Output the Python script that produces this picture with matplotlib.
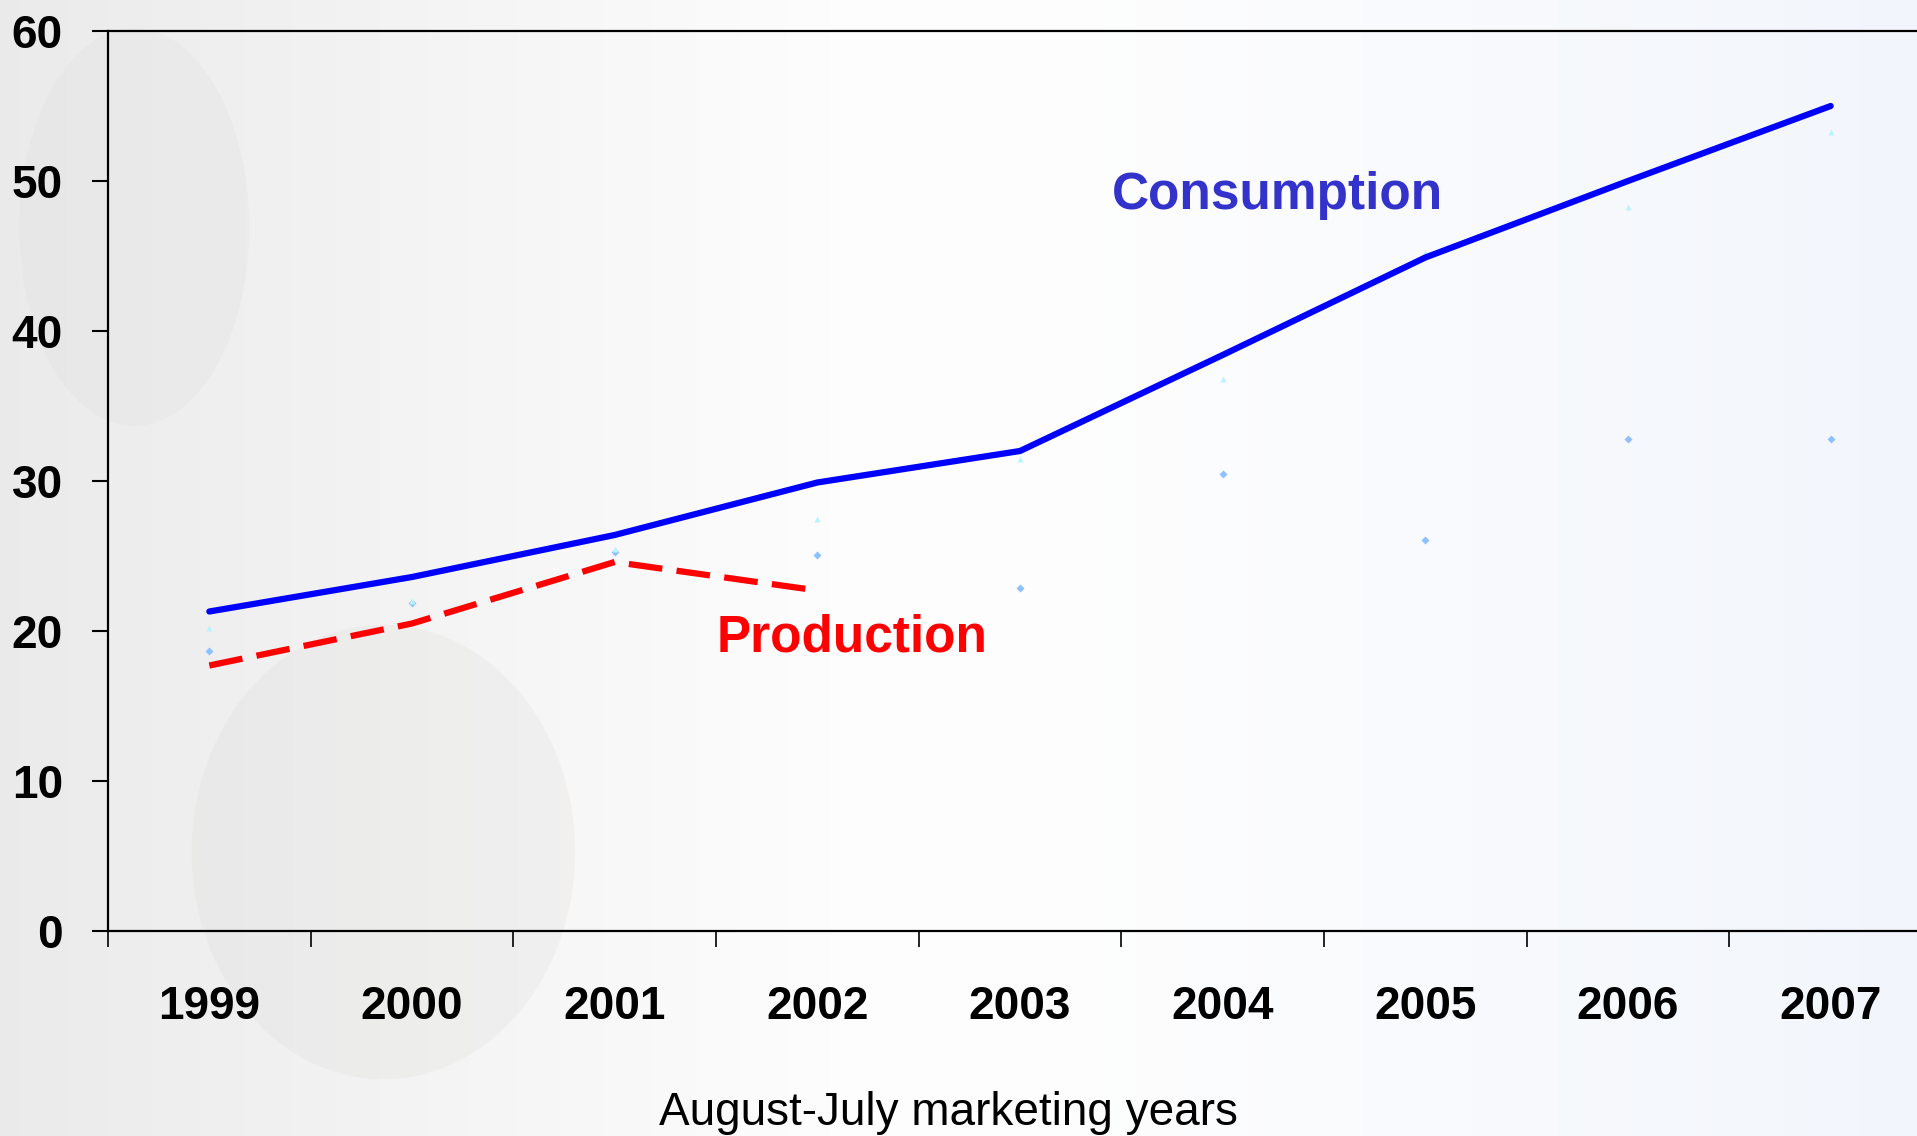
import numpy as np
import matplotlib.pyplot as plt
from matplotlib.ticker import FixedLocator
from matplotlib.patches import Ellipse

years = ['1999', '2000', '2001', '2002', '2003', '2004', '2005', '2006', '2007']
consumption = [21.3, 23.6, 26.4, 29.9, 32.0, 38.4, 44.9, 50.0, 55.0]
production = [17.7, 20.5, 24.6, 22.7]
faint_diamond = [18.7, 21.9, 25.3, 25.1, 22.9, 30.5, 26.1, 32.8, 32.8]
faint_triangle = [20.2, 22.0, 25.5, 27.5, 31.5, 36.8, 45.2, 48.3, 53.3]
yticks = [0, 10, 20, 30, 40, 50, 60]

plt.rcParams['font.family'] = ['Liberation Sans', 'DejaVu Sans']

fig = plt.figure(figsize=(19.17, 11.36), dpi=100)

# faded background: grey on the left, white in the middle, pale blue at right
bg = fig.add_axes([0, 0, 1, 1], zorder=-10)
gx = np.linspace(0, 1, 400)
gy = np.linspace(0, 1, 240)
X, Y = np.meshgrid(gx, gy)
left = np.clip(1 - X / 0.45, 0, 1)
right = np.clip((X - 0.55) / 0.45, 0, 1)
img = np.zeros((240, 400, 3))
img[..., 0] = 0.995 - 0.075 * left - 0.045 * right
img[..., 1] = 0.995 - 0.075 * left - 0.030 * right
img[..., 2] = 0.995 - 0.075 * left - 0.005 * right
bg.imshow(img, extent=[0, 1, 0, 1], aspect='auto', origin='lower')
bg.add_patch(Ellipse((0.2, 0.25), 0.2, 0.4, color='#d6d3d0', alpha=0.18, lw=0))
bg.add_patch(Ellipse((0.07, 0.8), 0.12, 0.35, color='#d8d8d8', alpha=0.18, lw=0))
bg.set_xlim(0, 1)
bg.set_ylim(0, 1)
bg.axis('off')

ax = fig.add_axes([108 / 1917, 1 - 931 / 1136, (1932 - 108) / 1917, 900 / 1136])
ax.patch.set_alpha(0)
x = np.arange(len(years))

ax.plot(x, faint_diamond, linestyle='none', marker='D', ms=4, color='#8fc0ff', mec='none')
ax.plot(x, faint_triangle, linestyle='none', marker='^', ms=5, color='#b8f4ff', mec='none')
ax.plot(x, consumption, color='#0000ff', lw=4.5, solid_capstyle='round', solid_joinstyle='round')
ax.plot(x[:len(production)], production, color='#ff0000', lw=4.5, dashes=(5.4, 2.3))

ax.text(5.27, 49.0, 'Consumption', color='#3333cc', fontsize=37, fontweight='bold',
        ha='center', va='center')
ax.text(3.17, 19.5, 'Production', color='#ff0000', fontsize=37, fontweight='bold',
        ha='center', va='center')

ax.set_xlim(-0.5, 8.5)
ax.set_ylim(0, 60)
ax.xaxis.set_major_locator(FixedLocator(np.arange(-0.5, 9, 1)))
ax.xaxis.set_minor_locator(FixedLocator(x))
ax.set_xticklabels([], minor=False)
ax.set_xticklabels(years, minor=True, fontsize=33, fontweight='bold')
ax.tick_params(axis='x', which='major', length=11.5, width=1.2, direction='out')
ax.tick_params(axis='x', which='minor', length=0, pad=39)
ax.set_yticks(yticks)
ax.set_yticklabels([str(v) for v in yticks], fontsize=33, fontweight='bold')
ax.tick_params(axis='y', length=11.5, width=1.5, direction='out', pad=21)

ax.spines['right'].set_visible(False)
for s in ['left', 'bottom', 'top']:
    ax.spines[s].set_linewidth(1.6)

ax.set_xlabel('August-July marketing years', fontsize=33)
ax.xaxis.label.set_va('center')
ax.xaxis.set_label_coords((948 - 108) / (1932 - 108), -(1113 - 931) / 900)

fig.savefig('out.png', dpi=100)
